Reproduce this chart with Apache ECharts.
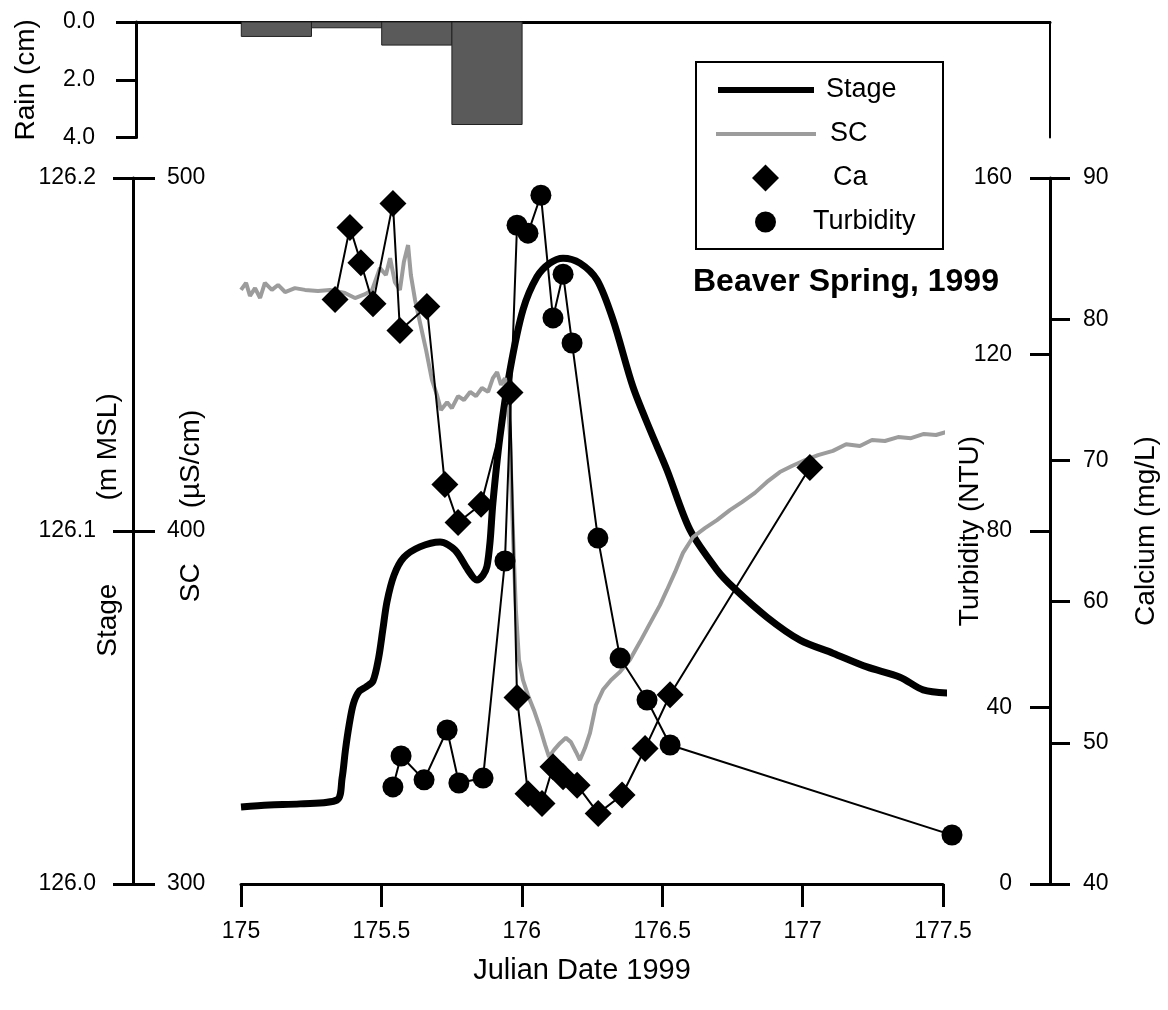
<!DOCTYPE html>
<html>
<head>
<meta charset="utf-8">
<script src="https://cdn.jsdelivr.net/npm/echarts@6/dist/echarts.min.js"></script>
<style>
  html, body { margin: 0; padding: 0; background: #fff; }
  #chart { width: 1168px; height: 1010px; }
</style>
</head>
<body>
<div id="chart"></div>
<script>
// Rainfall in 6-hour blocks (cm)
const rainStartDay = [175.0, 175.25, 175.5, 175.75];
const rainEndDay   = [175.25, 175.5, 175.75, 176.0];
const rainCm       = [0.5, 0.2, 0.8, 3.55];

// Spring stage (m above mean sea level)
const stageDay = [175.000, 175.100, 175.210, 175.342, 175.360, 175.372, 175.385, 175.400, 175.420, 175.445,
  175.470, 175.490, 175.505, 175.520, 175.545, 175.580, 175.637, 175.709, 175.762, 175.808,
  175.840, 175.862, 175.876, 175.887, 175.897, 175.922, 175.958, 176.004, 176.054, 176.100,
  176.147, 176.207, 176.268, 176.325, 176.396, 176.457, 176.517, 176.599, 176.695, 176.752,
  176.873, 176.991, 177.108, 177.229, 177.347, 177.429, 177.518];
const stageM = [126.0218, 126.0224, 126.0227, 126.0238, 126.0300, 126.0380, 126.0450, 126.0510, 126.0545, 126.0558,
  126.0575, 126.0640, 126.0720, 126.0800, 126.0875, 126.0925, 126.0955, 126.0969, 126.0946, 126.0890,
  126.0861, 126.0875, 126.0900, 126.0970, 126.1079, 126.1266, 126.1456, 126.1626, 126.1720, 126.1759,
  126.1773, 126.1759, 126.1711, 126.1598, 126.1408, 126.1286, 126.1173, 126.1003, 126.0890, 126.0841,
  126.0756, 126.0691, 126.0654, 126.0615, 126.0586, 126.0550, 126.0541];

// Specific conductance (µS/cm)
const scDay = [175.000, 175.018, 175.032, 175.050, 175.068, 175.085, 175.110, 175.132, 175.157, 175.192,
  175.228, 175.274, 175.317, 175.370, 175.406, 175.442, 175.467, 175.495, 175.516, 175.531,
  175.548, 175.566, 175.580, 175.595, 175.605, 175.620, 175.637, 175.659, 175.680, 175.698,
  175.712, 175.734, 175.751, 175.773, 175.794, 175.816, 175.837, 175.858, 175.880, 175.897,
  175.912, 175.926, 175.940, 175.951, 175.958, 175.965, 175.972, 175.979, 175.990, 176.004,
  176.022, 176.043, 176.065, 176.083, 176.097, 176.115, 176.136, 176.157, 176.175, 176.193,
  176.207, 176.225, 176.243, 176.264, 176.289, 176.318, 176.350, 176.385, 176.421, 176.457,
  176.492, 176.517, 176.546, 176.574, 176.610, 176.652, 176.695, 176.741, 176.784, 176.830,
  176.873, 176.919, 176.962, 177.009, 177.055, 177.108, 177.155, 177.204, 177.247, 177.293,
  177.340, 177.386, 177.432, 177.475, 177.510];
const scUScm = [468.3, 470.3, 466.6, 468.8, 466.0, 470.3, 468.3, 469.7, 467.7, 468.8,
  468.3, 468.0, 468.3, 467.4, 466.0, 467.1, 468.3, 474.5, 472.5, 477.3,
  470.5, 468.3, 476.2, 481.0, 472.5, 465.4, 459.2, 451.3, 442.8, 438.5,
  434.3, 436.5, 434.8, 438.2, 437.1, 439.4, 438.2, 440.5, 439.4, 443.3,
  445.0, 441.4, 443.3, 437.1, 426.6, 407.9, 391.8, 377.6, 363.5, 357.8,
  353.5, 349.3, 344.2, 339.4, 336.0, 338.0, 339.9, 341.4, 340.2, 337.4,
  335.1, 338.5, 342.8, 350.7, 355.0, 357.8, 360.1, 363.5, 368.6, 373.9,
  379.0, 383.3, 388.4, 393.8, 398.3, 400.8, 403.1, 405.9, 408.2, 410.8,
  413.9, 416.7, 418.4, 420.1, 421.5, 422.7, 424.6, 424.1, 425.8, 425.5,
  426.6, 426.3, 427.5, 427.2, 428.0];

// Calcium samples (mg/L)
const caDay = [175.335, 175.388, 175.427, 175.470, 175.541, 175.566, 175.662, 175.726, 175.773, 175.855,
  175.958, 175.983, 176.022, 176.072, 176.111, 176.147, 176.197, 176.272, 176.357, 176.439,
  176.528, 177.026];
const caMgL = [81.4, 86.5, 84.0, 81.1, 88.2, 79.2, 80.9, 68.3, 65.6, 66.9,
  74.8, 53.2, 46.4, 45.7, 48.3, 47.6, 47.0, 45.0, 46.3, 49.6,
  53.4, 69.5];

// Turbidity samples (NTU)
const turbDay = [175.541, 175.570, 175.652, 175.734, 175.776, 175.862, 175.940, 175.983, 176.022, 176.068,
  176.111, 176.147, 176.179, 176.271, 176.350, 176.446, 176.528, 177.532];
const turbNTU = [22.0, 29.0, 23.6, 34.9, 22.9, 24.0, 73.2, 149.3, 147.5, 156.1,
  128.3, 138.2, 122.6, 78.4, 51.2, 41.7, 31.5, 11.1];

// Axis tick settings
const dayTicks = { min: 175, max: 177.5, step: 0.5 };
const stageTicks = { min: 126.0, max: 126.2, step: 0.1 };
const scTicks = { min: 300, max: 500, step: 100 };
const turbTicks = { min: 0, max: 160, step: 40 };
const caTicks = { min: 40, max: 90, step: 10 };
const rainTicks = { min: 0, max: 4, step: 2 };

const zip = (xs, ys) => xs.map((x, i) => [x, ys[i]]);
const FONT = "'Liberation Sans', Arial, Helvetica, sans-serif";
const INK = '#000';

const chart = echarts.init(document.getElementById('chart'), null, { renderer: 'canvas' });

const axisLine = { show: true, lineStyle: { color: INK, width: 3 } };
const tickStyle = { color: INK, width: 3 };
const tickLabel = { color: INK, fontFamily: FONT, fontSize: 23 };
const nameStyle = (extra) => Object.assign({ color: INK, fontFamily: FONT, fontSize: 28 }, extra || {});
const gapRich = (w) => ({ width: w, fontSize: 28, fontFamily: FONT });

const legendBase = {
  orient: 'vertical', padding: 0, selectedMode: false, symbolKeepAspect: true,
  textStyle: { color: INK, fontFamily: FONT, fontSize: 27, lineHeight: 30 }
};
const legendText = (padLeft) => Object.assign({}, legendBase.textStyle, { padding: [0, 0, 0, padLeft] });

const option = {
  backgroundColor: '#fff',
  animation: false,
  title: {
    text: 'Beaver Spring, 1999',
    left: 693, top: 266, padding: 0,
    textStyle: { color: INK, fontFamily: FONT, fontSize: 32, fontWeight: 'bold' }
  },
  legend: [
    Object.assign({}, legendBase, { left: 718, top: 75, itemWidth: 96, itemHeight: 6,
      data: [{ name: 'Stage', icon: 'rect' }], textStyle: legendText(7) }),
    Object.assign({}, legendBase, { left: 716, top: 119, itemWidth: 100, itemHeight: 4,
      data: [{ name: 'SC', icon: 'rect' }], textStyle: legendText(9) }),
    Object.assign({}, legendBase, { left: 752, top: 163, itemWidth: 27, itemHeight: 27,
      data: [{ name: 'Ca', icon: 'diamond' }], textStyle: legendText(49) }),
    Object.assign({}, legendBase, { left: 755, top: 207, itemWidth: 21, itemHeight: 21,
      data: [{ name: 'Turbidity', icon: 'circle' }], textStyle: legendText(32) })
  ],
  graphic: [
    { type: 'rect', shape: { x: 696, y: 62, width: 247, height: 187 },
      style: { fill: 'none', stroke: INK, lineWidth: 2 }, z: 1 }
  ],
  grid: [
    { left: 241, top: 178, width: 702, height: 706, outerBoundsMode: 'none', containLabel: false },
    { left: 136, top: 22, width: 914, height: 115.5, outerBoundsMode: 'none', containLabel: false }
  ],
  xAxis: [
    {
      gridIndex: 0, type: 'value', position: 'bottom',
      min: dayTicks.min, max: dayTicks.max, interval: dayTicks.step,
      axisLine: axisLine,
      axisTick: { show: true, length: 23, lineStyle: tickStyle },
      axisLabel: Object.assign({ margin: 36 }, tickLabel),
      splitLine: { show: false },
      name: '{t|Julian Date 1999}{s| }', nameLocation: 'middle', nameGap: 72, nameMoveOverlap: false,
      nameTextStyle: nameStyle({ rich: { t: nameStyle({ fontSize: 29 }), s: gapRich(20) } })
    },
    {
      gridIndex: 1, type: 'value', position: 'top',
      min: 174.625, max: 177.88,
      axisLine: axisLine, axisTick: { show: false }, axisLabel: { show: false },
      splitLine: { show: false }
    }
  ],
  yAxis: [
    { // Stage
      gridIndex: 0, type: 'value', position: 'left', offset: 108,
      min: stageTicks.min, max: stageTicks.max, interval: stageTicks.step,
      axisLine: axisLine,
      axisTick: { show: true, length: 20, lineStyle: tickStyle },
      axisLabel: Object.assign({ margin: 37, formatter: (v) => v.toFixed(1) }, tickLabel),
      splitLine: { show: false },
      name: '{s| }{t|Stage}{g| }{t|(m MSL)}', nameLocation: 'middle', nameRotate: 90, nameGap: 11,
      nameMoveOverlap: false,
      nameTextStyle: nameStyle({ rich: { t: nameStyle(), g: gapRich(83), s: gapRich(12) } })
    },
    { // Specific conductance
      gridIndex: 0, type: 'value', position: 'left', offset: 108,
      min: scTicks.min, max: scTicks.max, interval: scTicks.step,
      axisLine: { show: false },
      axisTick: { show: true, inside: true, length: 22, lineStyle: tickStyle },
      axisLabel: Object.assign({ inside: true, margin: 34 }, tickLabel),
      splitLine: { show: false },
      name: '{s| }{t|SC}{g| }{t|(µS/cm)}', nameLocation: 'middle', nameRotate: 90, nameGap: -72,
      nameMoveOverlap: false,
      nameTextStyle: nameStyle({ rich: { t: nameStyle(), g: gapRich(55), s: gapRich(50) } })
    },
    { // Turbidity
      gridIndex: 0, type: 'value', position: 'right', offset: 107,
      min: turbTicks.min, max: turbTicks.max, interval: turbTicks.step,
      axisLine: axisLine,
      axisTick: { show: true, inside: true, length: 20, lineStyle: tickStyle },
      axisLabel: Object.assign({ inside: true, margin: 38 }, tickLabel),
      splitLine: { show: false },
      name: 'Turbidity (NTU)', nameLocation: 'middle', nameRotate: 90, nameGap: -94,
      nameMoveOverlap: false,
      nameTextStyle: nameStyle()
    },
    { // Calcium
      gridIndex: 0, type: 'value', position: 'right', offset: 107,
      min: caTicks.min, max: caTicks.max, interval: caTicks.step,
      axisLine: { show: false },
      axisTick: { show: true, length: 20, lineStyle: tickStyle },
      axisLabel: Object.assign({ margin: 33 }, tickLabel),
      splitLine: { show: false },
      name: 'Calcium (mg/L)', nameLocation: 'middle', nameRotate: 90, nameGap: 82,
      nameMoveOverlap: false,
      nameTextStyle: nameStyle()
    },
    { // Rain (downward)
      gridIndex: 1, type: 'value', position: 'left', inverse: true,
      min: rainTicks.min, max: rainTicks.max, interval: rainTicks.step,
      axisLine: axisLine,
      axisTick: { show: true, length: 20, lineStyle: tickStyle },
      axisLabel: Object.assign({ margin: 41, formatter: (v) => v.toFixed(1) }, tickLabel),
      splitLine: { show: false },
      name: 'Rain (cm)', nameLocation: 'middle', nameRotate: 90, nameGap: 96,
      nameMoveOverlap: false,
      nameTextStyle: nameStyle()
    },
    { // right border of the rain panel
      gridIndex: 1, type: 'value', position: 'right', inverse: true,
      min: rainTicks.min, max: rainTicks.max,
      axisLine: { show: true, lineStyle: { color: INK, width: 2 } },
      axisTick: { show: false }, axisLabel: { show: false }, splitLine: { show: false }
    }
  ],
  series: [
    {
      name: 'Rain', type: 'custom', xAxisIndex: 1, yAxisIndex: 4,
      encode: { x: [0, 1], y: 2 },
      data: rainStartDay.map((d, i) => [d, rainEndDay[i], rainCm[i]]),
      renderItem: (params, api) => {
        const p0 = api.coord([api.value(0), 0]);
        const p1 = api.coord([api.value(1), api.value(2)]);
        return {
          type: 'rect',
          shape: { x: p0[0], y: p0[1], width: p1[0] - p0[0], height: p1[1] - p0[1] },
          style: { fill: '#5a5a5a', stroke: '#222', lineWidth: 1 }
        };
      }
    },
    {
      name: 'Stage', type: 'line', xAxisIndex: 0, yAxisIndex: 0,
      data: zip(stageDay, stageM), showSymbol: false, symbol: 'none', smooth: 0.3, clip: false,
      color: '#000', lineStyle: { color: '#000', width: 7 }, z: 3
    },
    {
      name: 'SC', type: 'line', xAxisIndex: 0, yAxisIndex: 1,
      data: zip(scDay, scUScm), showSymbol: false, symbol: 'none', clip: false,
      color: '#9c9c9c', lineStyle: { color: '#9c9c9c', width: 4 }, z: 4
    },
    {
      name: 'Ca', type: 'line', xAxisIndex: 0, yAxisIndex: 3,
      data: zip(caDay, caMgL), symbol: 'diamond', symbolSize: 27, clip: false,
      color: '#000', itemStyle: { color: '#000' }, lineStyle: { color: '#000', width: 2 }, z: 5
    },
    {
      name: 'Turbidity', type: 'line', xAxisIndex: 0, yAxisIndex: 2,
      data: zip(turbDay, turbNTU), symbol: 'circle', symbolSize: 21, clip: false,
      color: '#000', itemStyle: { color: '#000' }, lineStyle: { color: '#000', width: 2 }, z: 5
    }
  ]
};

chart.setOption(option);
</script>
</body>
</html>
